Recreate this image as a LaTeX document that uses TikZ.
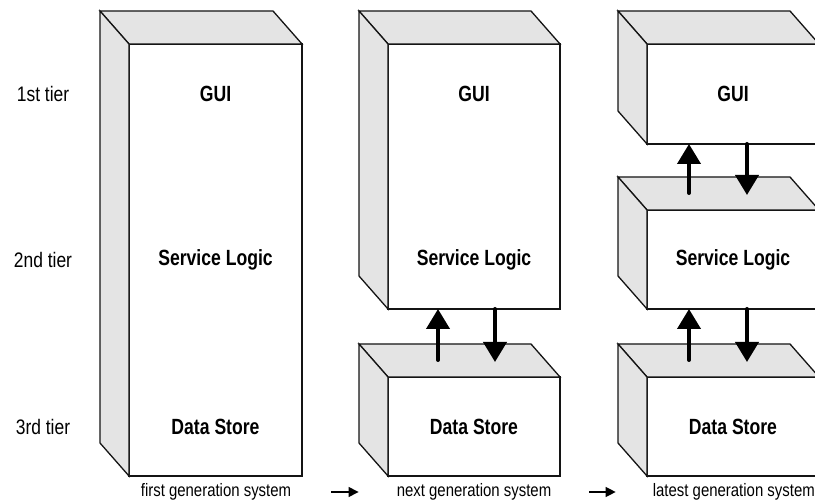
\documentclass[tikz,border=0pt]{standalone}
\usepackage{fontspec}
\usetikzlibrary{arrows.meta}
\newfontfamily\arialx{Liberation Sans}[FakeStretch=0.83]
\newfontfamily\arialbx{Liberation Sans}[FakeStretch=0.8]
\definecolor{facegrey}{RGB}{228,228,228}
\definecolor{edge}{RGB}{20,20,20}
\newcommand\threedfaces[1]{%
  \filldraw[face] (#1.north west) -- ++(-29,-33) -- ([shift={(-29,-33)}]#1.north east) -- (#1.north east) -- cycle;
  \filldraw[face] (#1.north west) -- ++(-29,-33) -- ([shift={(-29,-33)}]#1.south west) -- (#1.south west) -- cycle;
}
\begin{document}
\begin{tikzpicture}[x=1pt,y=-1pt,
  front/.style={draw=edge, line width=1.3pt, fill=white, inner sep=0pt, outer sep=0pt, rectangle},
  face/.style={draw=edge, line width=1.3pt, fill=facegrey, line join=miter},
  lbl/.style={font=\arialbx\bfseries\fontsize{22}{24}\selectfont, inner sep=0pt},
  tier/.style={font=\arialx\fontsize{21}{24}\selectfont, inner sep=0pt},
  gen/.style={font=\arialx\fontsize{18}{20}\selectfont, inner sep=0pt},
  bigarr/.style={line width=4pt, line cap=round, -{Triangle[length=20pt,width=23pt]}},
  smallarr/.style={line width=1.3pt, -{Triangle[length=10pt,width=10pt]}}]
\useasboundingbox (0,0) rectangle (815,502);

% first generation
\node[front, minimum width=173pt, minimum height=432pt] (A) at (215.5,260) {};
\threedfaces{A}
\node[lbl] (A1) at (215.5,94) {GUI};
\node[lbl] (A2) at (215.5,260) {Service Logic};
\node[lbl] (A3) at (215.5,427) {Data Store};

% next generation
\node[front, minimum width=172pt, minimum height=265pt] (B1) at (474,176.5) {};
\threedfaces{B1}
\node[front, minimum width=172pt, minimum height=99pt] (B2) at (474,426.5) {};
\threedfaces{B2}
\node[lbl] (B1a) at (474,94) {GUI};
\node[lbl] (B1b) at (474,260) {Service Logic};
\node[lbl] (B2a) at (474,427) {Data Store};

% latest generation
\node[front, minimum width=172pt, minimum height=100pt] (C1) at (733,94) {};
\threedfaces{C1}
\node[front, minimum width=172pt, minimum height=99pt] (C2) at (733,259.5) {};
\threedfaces{C2}
\node[front, minimum width=172pt, minimum height=99pt] (C3) at (733,426.5) {};
\threedfaces{C3}
\node[lbl] (C1a) at (733,94) {GUI};
\node[lbl] (C2a) at (733,260) {Service Logic};
\node[lbl] (C3a) at (733,427) {Data Store};

% tier labels
\node[tier] (T1) at (43,94) {1st tier};
\node[tier] (T2) at (43,260) {2nd tier};
\node[tier] (T3) at (43,427) {3rd tier};

% arrows between tiers
\coordinate (uB) at ([shift={(50,-17)}]B2.north west);
\coordinate (dB) at ([shift={(107,-15)}]B2.north west);
\draw[bigarr] (uB) -- (uB |- B1.south);
\draw[bigarr] (dB |- B1.south) -- (dB);

\coordinate (uC1) at ([shift={(42,-17)}]C2.north west);
\coordinate (dC1) at ([shift={(100,-15)}]C2.north west);
\draw[bigarr] (uC1) -- (uC1 |- C1.south);
\draw[bigarr] (dC1 |- C1.south) -- (dC1);

\coordinate (uC2) at ([shift={(42,-17)}]C3.north west);
\coordinate (dC2) at ([shift={(100,-15)}]C3.north west);
\draw[bigarr] (uC2) -- (uC2 |- C2.south);
\draw[bigarr] (dC2 |- C2.south) -- (dC2);

% generation labels
\node[gen] (G1) at (216,492) {first generation system};
\node[gen] (G2) at (474,492) {next generation system};
\node[gen, anchor=east] (G3) at (815,492) {latest generation system};
\draw[smallarr] ([xshift=40pt]G1.east) -- ([xshift=-38pt]G2.west);
\draw[smallarr] ([xshift=38pt]G2.east) -- ([xshift=-37pt]G3.west);
\end{tikzpicture}
\end{document}
